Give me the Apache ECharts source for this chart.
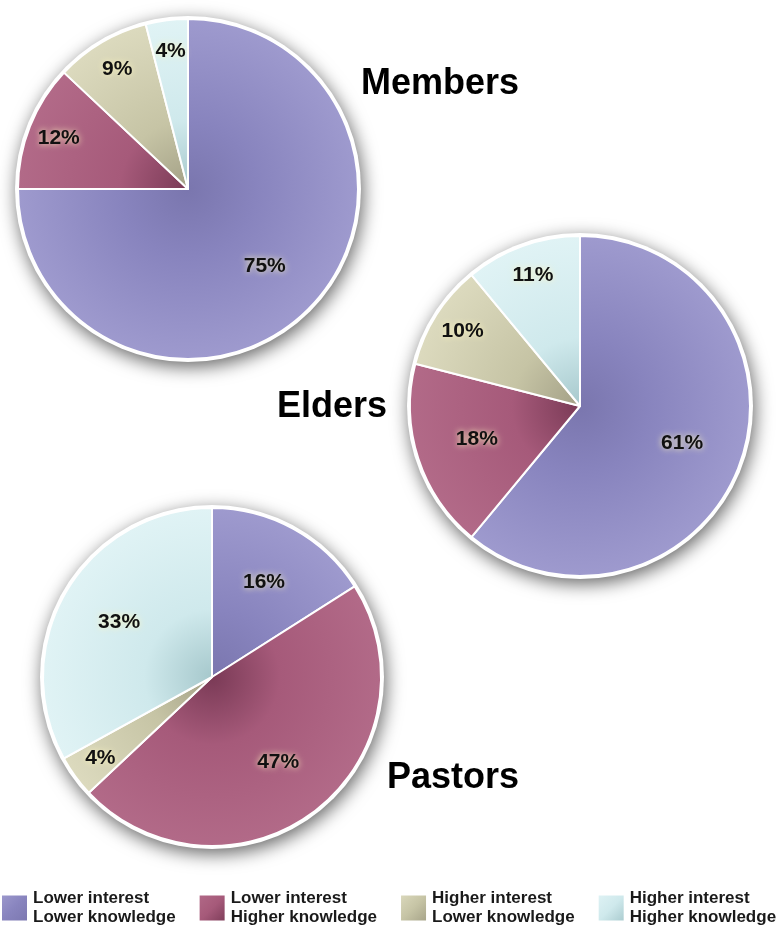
<!DOCTYPE html>
<html>
<head>
<meta charset="utf-8">
<script src="https://cdn.jsdelivr.net/npm/echarts@6/dist/echarts.min.js"></script>
<style>
html,body{margin:0;padding:0;background:#fff;}
#chart{width:777px;height:929px;}
</style>
</head>
<body>
<div id="chart"></div>
<script>
// ---- data ----
const categories = [
  'Lower interest\nLower knowledge',
  'Lower interest\nHigher knowledge',
  'Higher interest\nLower knowledge',
  'Higher interest\nHigher knowledge'
];
const groups = ['Members', 'Elders', 'Pastors'];
const membersValues = [75, 12, 9, 4];
const eldersValues = [61, 18, 10, 11];
const pastorsValues = [16, 47, 4, 33];

// ---- styling / layout ----
const palette = [
  { dark: '#7a76ae', base: '#8884be', light: '#9e9ace' },
  { dark: '#7a3a56', base: '#a65a7a', light: '#b26a88' },
  { dark: '#a3a086', base: '#c6c4a5', light: '#dcdabe' },
  { dark: '#a6c8cc', base: '#cfe9ec', light: '#e0f3f5' }
];
const layouts = [
  { center: [188, 189], r: 170, title: { left: 361, top: 66 } },
  { center: [580, 406], r: 170, title: { left: 277, top: 389 } },
  { center: [212, 677], r: 169, title: { left: 387, top: 760 } }
];
const valuesByGroup = [membersValues, eldersValues, pastorsValues];

function radial(cx, cy, r, c) {
  return {
    type: 'radial', x: cx, y: cy, r: r, global: true,
    colorStops: [
      { offset: 0, color: c.dark },
      { offset: 0.4, color: c.base },
      { offset: 1, color: c.light }
    ]
  };
}
function linear(c) {
  return {
    type: 'linear', x: 0, y: 0, x2: 1, y2: 1,
    colorStops: [
      { offset: 0, color: c.light },
      { offset: 0.5, color: c.base },
      { offset: 1, color: c.dark }
    ]
  };
}

const labelStyle = {
  color: '#111',
  fontFamily: 'Liberation Sans, Arial, sans-serif',
  fontWeight: 'bold',
  fontSize: 21,
  textShadowColor: 'rgba(255,248,190,1)',
  textShadowBlur: 6,
  formatter: '{c}%'
};

const series = [];
const titles = [];
layouts.forEach((L, gi) => {
  const vals = valuesByGroup[gi];
  const [cx, cy] = L.center;
  // shadow + white rim
  series.push({
    type: 'pie', name: groups[gi] + '-rim', center: L.center, radius: L.r + 3,
    silent: true, animation: false, z: 1,
    label: { show: false }, labelLine: { show: false },
    itemStyle: { color: '#fff', shadowBlur: 18, shadowColor: 'rgba(0,0,0,0.6)', shadowOffsetX: 2, shadowOffsetY: 5 },
    data: [{ value: 1, name: '__rim' }]
  });
  // main slices
  series.push({
    type: 'pie', name: groups[gi], center: L.center, radius: L.r,
    startAngle: 90, clockwise: true, animation: false, z: 2,
    label: { show: false }, labelLine: { show: false },
    emphasis: { disabled: true },
    itemStyle: { borderColor: '#fff', borderWidth: 2 },
    data: categories.map((name, i) => ({
      name: name, value: vals[i],
      itemStyle: { color: radial(cx, cy, L.r, palette[i]) }
    }))
  });
  // label carriers: large slices nearer the centre, small ones nearer the rim
  [[0.24, v => v >= 13], [0.6, v => v < 13]].forEach(([k, test]) => {
    series.push({
      type: 'pie', name: groups[gi] + '-labels', center: L.center,
      radius: [Math.round(L.r * k), L.r],
      startAngle: 90, clockwise: true, animation: false, silent: true, z: 3,
      itemStyle: { color: 'rgba(0,0,0,0)', borderWidth: 0 },
      emphasis: { disabled: true },
      labelLine: { show: false },
      data: categories.map((name, i) => ({
        name: name, value: vals[i],
        label: Object.assign({ show: test(vals[i]), position: 'inside' }, labelStyle)
      }))
    });
  });
  titles.push({
    text: groups[gi], left: L.title.left, top: L.title.top, padding: 0,
    textStyle: { fontFamily: 'Liberation Sans, Arial, sans-serif', fontWeight: 'bold', fontSize: 36, color: '#000' }
  });
});

const chart = echarts.init(document.getElementById('chart'), null, { renderer: 'canvas' });
chart.setOption({
  backgroundColor: '#fff',
  animation: false,
  title: titles,
  legend: {
    left: 0, top: 889, width: 800, padding: 0,
    orient: 'horizontal',
    itemWidth: 27, itemHeight: 27, itemGap: 22,
    icon: 'rect',
    selectedMode: false,
    textStyle: {
      fontFamily: 'Liberation Sans, Arial, sans-serif', fontWeight: 'bold',
      fontSize: 17, lineHeight: 19, color: '#1a1a1a', width: 142
    },
    data: categories.map((name, i) => ({ name: name, itemStyle: { color: linear(palette[i]) } }))
  },
  series: series
});
</script>
</body>
</html>
